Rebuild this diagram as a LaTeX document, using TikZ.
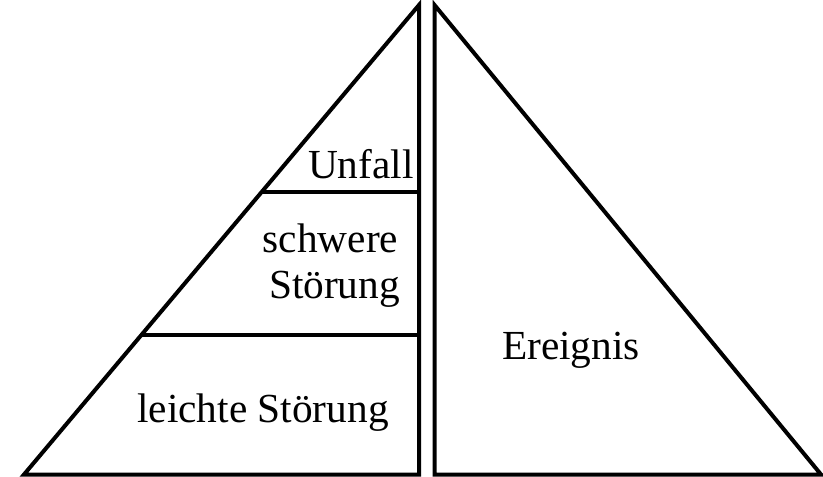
\documentclass[tikz,border=0pt]{standalone}
\usepackage{fontspec}
\setmainfont{Liberation Serif}
\begin{document}
\begin{tikzpicture}[x=0.75pt,y=-0.75pt,
  edge/.style={line width=3pt,line join=miter},
  lab/.style={font=\fontsize{31}{33}\selectfont,inner sep=0pt,anchor=base}]
\useasboundingbox (0,0) rectangle (823,477);
% left half pyramid
\coordinate (LA) at (419,5);
\coordinate (LB) at (24,474.5);
\coordinate (LC) at (419,474.5);
\draw[edge] (LB) -- (LA) -- (LC) -- cycle;
\coordinate (U1) at (261.5,192);
\coordinate (U2) at (419,192);
\coordinate (S1) at (141.5,335);
\coordinate (S2) at (419,335);
\draw[edge] (U1) -- (U2);
\draw[edge] (S1) -- (S2);
% right triangle
\coordinate (RA) at (434.5,5);
\coordinate (RB) at (434.5,474.5);
\coordinate (RC) at (821,474.5);
\draw[edge] (RA) -- (RB) -- (RC) -- cycle;
% labels
\node[lab,anchor=base east] (unfall) at (414,179) {Unfall};
\node[lab] (schwere) at (330.5,252) {schwere};
\node[lab] (stoerung) at (334.5,298) {Störung};
\node[lab] (leicht) at (263,422) {leichte Störung};
\node[lab] (ereignis) at (571,359) {Ereignis};
\end{tikzpicture}
\end{document}
